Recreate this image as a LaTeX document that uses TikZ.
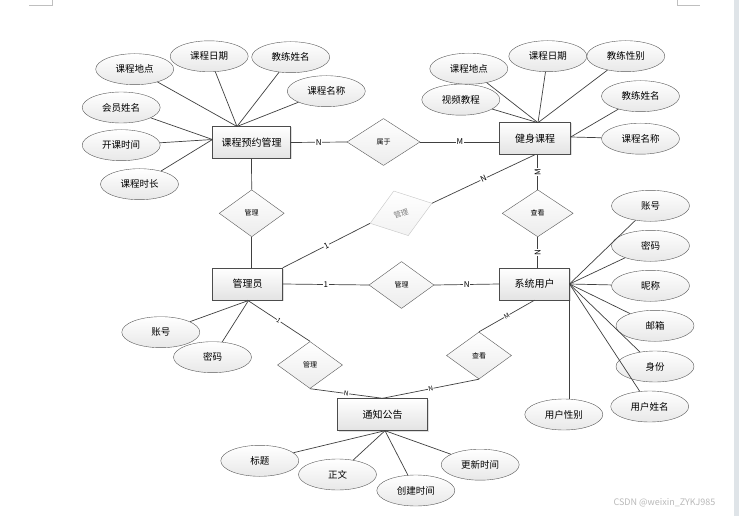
\documentclass[tikz,border=0pt]{standalone}
\usepackage{fontspec}
\setmainfont{Noto Sans CJK SC}
\usetikzlibrary{shapes.geometric,shadows}
\definecolor{pagestrip}{HTML}{DFE4E8}

\begin{document}
\begin{tikzpicture}[x=1pt,y=-1pt,
    entity/.style={draw=black!70, top color=white, bottom color=gray!22,
        minimum width=70pt, minimum height=32pt, inner sep=0pt,
        font=\fontsize{10}{12}\selectfont,
        drop shadow={shadow xshift=1pt, shadow yshift=-1pt, fill=gray!50}},
    attr/.style={ellipse, draw=black!65, top color=white, bottom color=gray!18,
        minimum width=78pt, minimum height=31pt, inner sep=0pt,
        font=\fontsize{9.5}{11}\selectfont},
    rel/.style={diamond, draw=black!65, top color=white, bottom color=gray!15,
        minimum width=65pt, minimum height=47pt, inner sep=0pt,
        font=\fontsize{7}{8}\selectfont},
    link/.style={draw=black!75, line width=0.7pt},
    card/.style={fill=white, inner sep=0.6pt, font=\fontsize{8}{9}\selectfont},
    tinycard/.style={fill=white, inner sep=0.4pt, font=\fontsize{6.5}{7}\selectfont}]

    % page and frame marks
    \fill[white] (0,0) rectangle (739,516);
    \useasboundingbox (0,0) rectangle (739,516);
    \fill[pagestrip] (734,0) rectangle (739,516);
    \draw[gray!50] (29,5) -- (52,5) -- (52,0);
    \draw[gray!50] (677,0) -- (677,5) -- (700,5);

    % entities
    \node[entity, minimum width=78pt] (kcyy) at (251.5,142.5) {课程预约管理};
    \node[entity, minimum width=71pt] (jskc) at (535,138.5) {健身课程};
    \node[entity] (gly) at (247.5,284) {管理员};
    \node[entity] (xtyh) at (534.5,284) {系统用户};
    \node[entity, minimum width=90pt] (tzgg) at (382.5,414.5) {通知公告};

    % relations
    \node[rel, minimum width=73pt] (sy) at (383.5,142) {属于};
    \node[rel] (gl1) at (251.7,213.3) {管理};
    \node[rel, minimum width=71pt] (ck1) at (537.7,213.3) {查看};
    \node[rel] (gl2) at (401.5,285) {管理};
    \node[rel] (gl3) at (310,365) {管理};
    \node[rel] (ck2) at (479,355.5) {查看};
    \node[rel, rotate=18, draw=gray!45, bottom color=gray!10, text=gray,
        font=\fontsize{7.5}{8}\selectfont] (gl4) at (401,213.3) {管理};

    % relation links
    \draw[link] (kcyy.east) -- node[card]{N} (sy.west);
    \draw[link] (sy.east) -- node[card]{M} (sy.east -| jskc.west);
    \draw[link] (kcyy.south) -- (gl1.north);
    \draw[link] (gl1.south) -- (gl1.south |- gly.north);
    \draw[link] (gly.north east) -- node[card, sloped]{1} (gl4.west);
    \draw[link] (gl4.east) -- node[card, sloped]{N} (jskc.south);
    \draw[link] (ck1.north |- jskc.south) -- node[card, rotate=90]{M} (ck1.north);
    \draw[link] (ck1.south) -- node[card, rotate=90]{N} (ck1.south |- xtyh.north);
    \draw[link] (gly.east) -- node[card]{1} (gl2.west);
    \draw[link] (gl2.east) -- node[card]{N} (xtyh.west);
    \draw[link] (gly.south) -- node[tinycard, sloped]{1} (gl3.north);
    \draw[link] (gl3.south) -- node[tinycard, sloped]{N} (tzgg.north);
    \draw[link] (ck2.south) -- node[tinycard, sloped]{N} (tzgg.north);
    \draw[link] (xtyh.south) -- node[tinycard, sloped]{M} (ck2.north);

    % attributes of 课程预约管理
    \coordinate (kyT) at (237,126.5);
    \coordinate (kyL) at (212.5,139.5);
    \node[attr] (kydd) at (134.7,69.2) {课程地点};
    \node[attr] (kyrq) at (209.2,56.3) {课程日期};
    \node[attr] (kyjl) at (290.7,57.2) {教练姓名};
    \node[attr] (kymc) at (326.3,91.2) {课程名称};
    \node[attr] (kyhy) at (121.2,107.5) {会员姓名};
    \node[attr] (kysj) at (121.2,145.2) {开课时间};
    \node[attr] (kysc) at (139.5,184.2) {课程时长};
    \draw[link] (kydd) -- (kyT);
    \draw[link] (kyrq) -- (kyT);
    \draw[link] (kyjl) -- (kyT);
    \draw[link] (kymc) -- (kyT);
    \draw[link] (kyhy) -- (kyL);
    \draw[link] (kysj) -- (kyL);
    \draw[link] (kysc) -- (kyL);

    % attributes of 健身课程
    \coordinate (jsT) at (538,122.7);
    \coordinate (jsR) at (570.7,137);
    \node[attr] (jsdd) at (468.8,68.7) {课程地点};
    \node[attr] (jsrq) at (547.8,56.2) {课程日期};
    \node[attr] (jsxb) at (625.8,56.2) {教练性别};
    \node[attr] (jssp) at (460.8,99.7) {视频教程};
    \node[attr] (jsjl) at (640.5,96.2) {教练姓名};
    \node[attr] (jsmc) at (640.5,138.7) {课程名称};
    \draw[link] (jsdd) -- (jsT);
    \draw[link] (jsrq) -- (jsT);
    \draw[link] (jsxb) -- (jsT);
    \draw[link] (jssp) -- (jsT);
    \draw[link] (jsjl) -- (jsR);
    \draw[link] (jsmc) -- (jsR);

    % attributes of 系统用户
    \coordinate (xyR) at (569.5,284);
    \coordinate (xyB) at (569.5,300);
    \node[attr] (xyzh) at (650.5,205.8) {账号};
    \node[attr] (xymm) at (650.5,245.8) {密码};
    \node[attr] (xync) at (650.5,285.8) {昵称};
    \node[attr] (xyyx) at (655,325.8) {邮箱};
    \node[attr] (xysf) at (655,366.5) {身份};
    \node[attr] (xyxm) at (649.7,406.5) {用户姓名};
    \node[attr] (xyxb) at (563.8,414.5) {用户性别};
    \draw[link] (xyR) -- (xyzh);
    \draw[link] (xyR) -- (xymm);
    \draw[link] (xyR) -- (xync);
    \draw[link] (xyR) -- (xyyx);
    \draw[link] (xyR) -- (xysf);
    \draw[link] (xyR) -- (xyxm);
    \draw[link] (xyB) -- (xyB |- xyxb.north);

    % attributes of 管理员
    \coordinate (glB) at (248.5,300.5);
    \node[attr] (glzh) at (160.8,332.2) {账号};
    \node[attr] (glmm) at (212.5,357.2) {密码};
    \draw[link] (glB) -- (glzh);
    \draw[link] (glB) -- (glmm);

    % attributes of 通知公告
    \coordinate (tzB) at (385,430.7);
    \node[attr] (tzbt) at (259.8,460.8) {标题};
    \node[attr] (tzzw) at (337.5,474.5) {正文};
    \node[attr] (tzcj) at (415.8,490.5) {创建时间};
    \node[attr] (tzgx) at (480.2,464.7) {更新时间};
    \draw[link] (tzB) -- (tzbt);
    \draw[link] (tzB) -- (tzzw);
    \draw[link] (tzB) -- (tzcj);
    \draw[link] (tzB) -- (tzgx);

    \node[anchor=east, text=gray!55, font=\fontsize{9}{10}\selectfont] (wm) at (719,503) {CSDN @weixin\_ZYKJ985};
\end{tikzpicture}
\end{document}
